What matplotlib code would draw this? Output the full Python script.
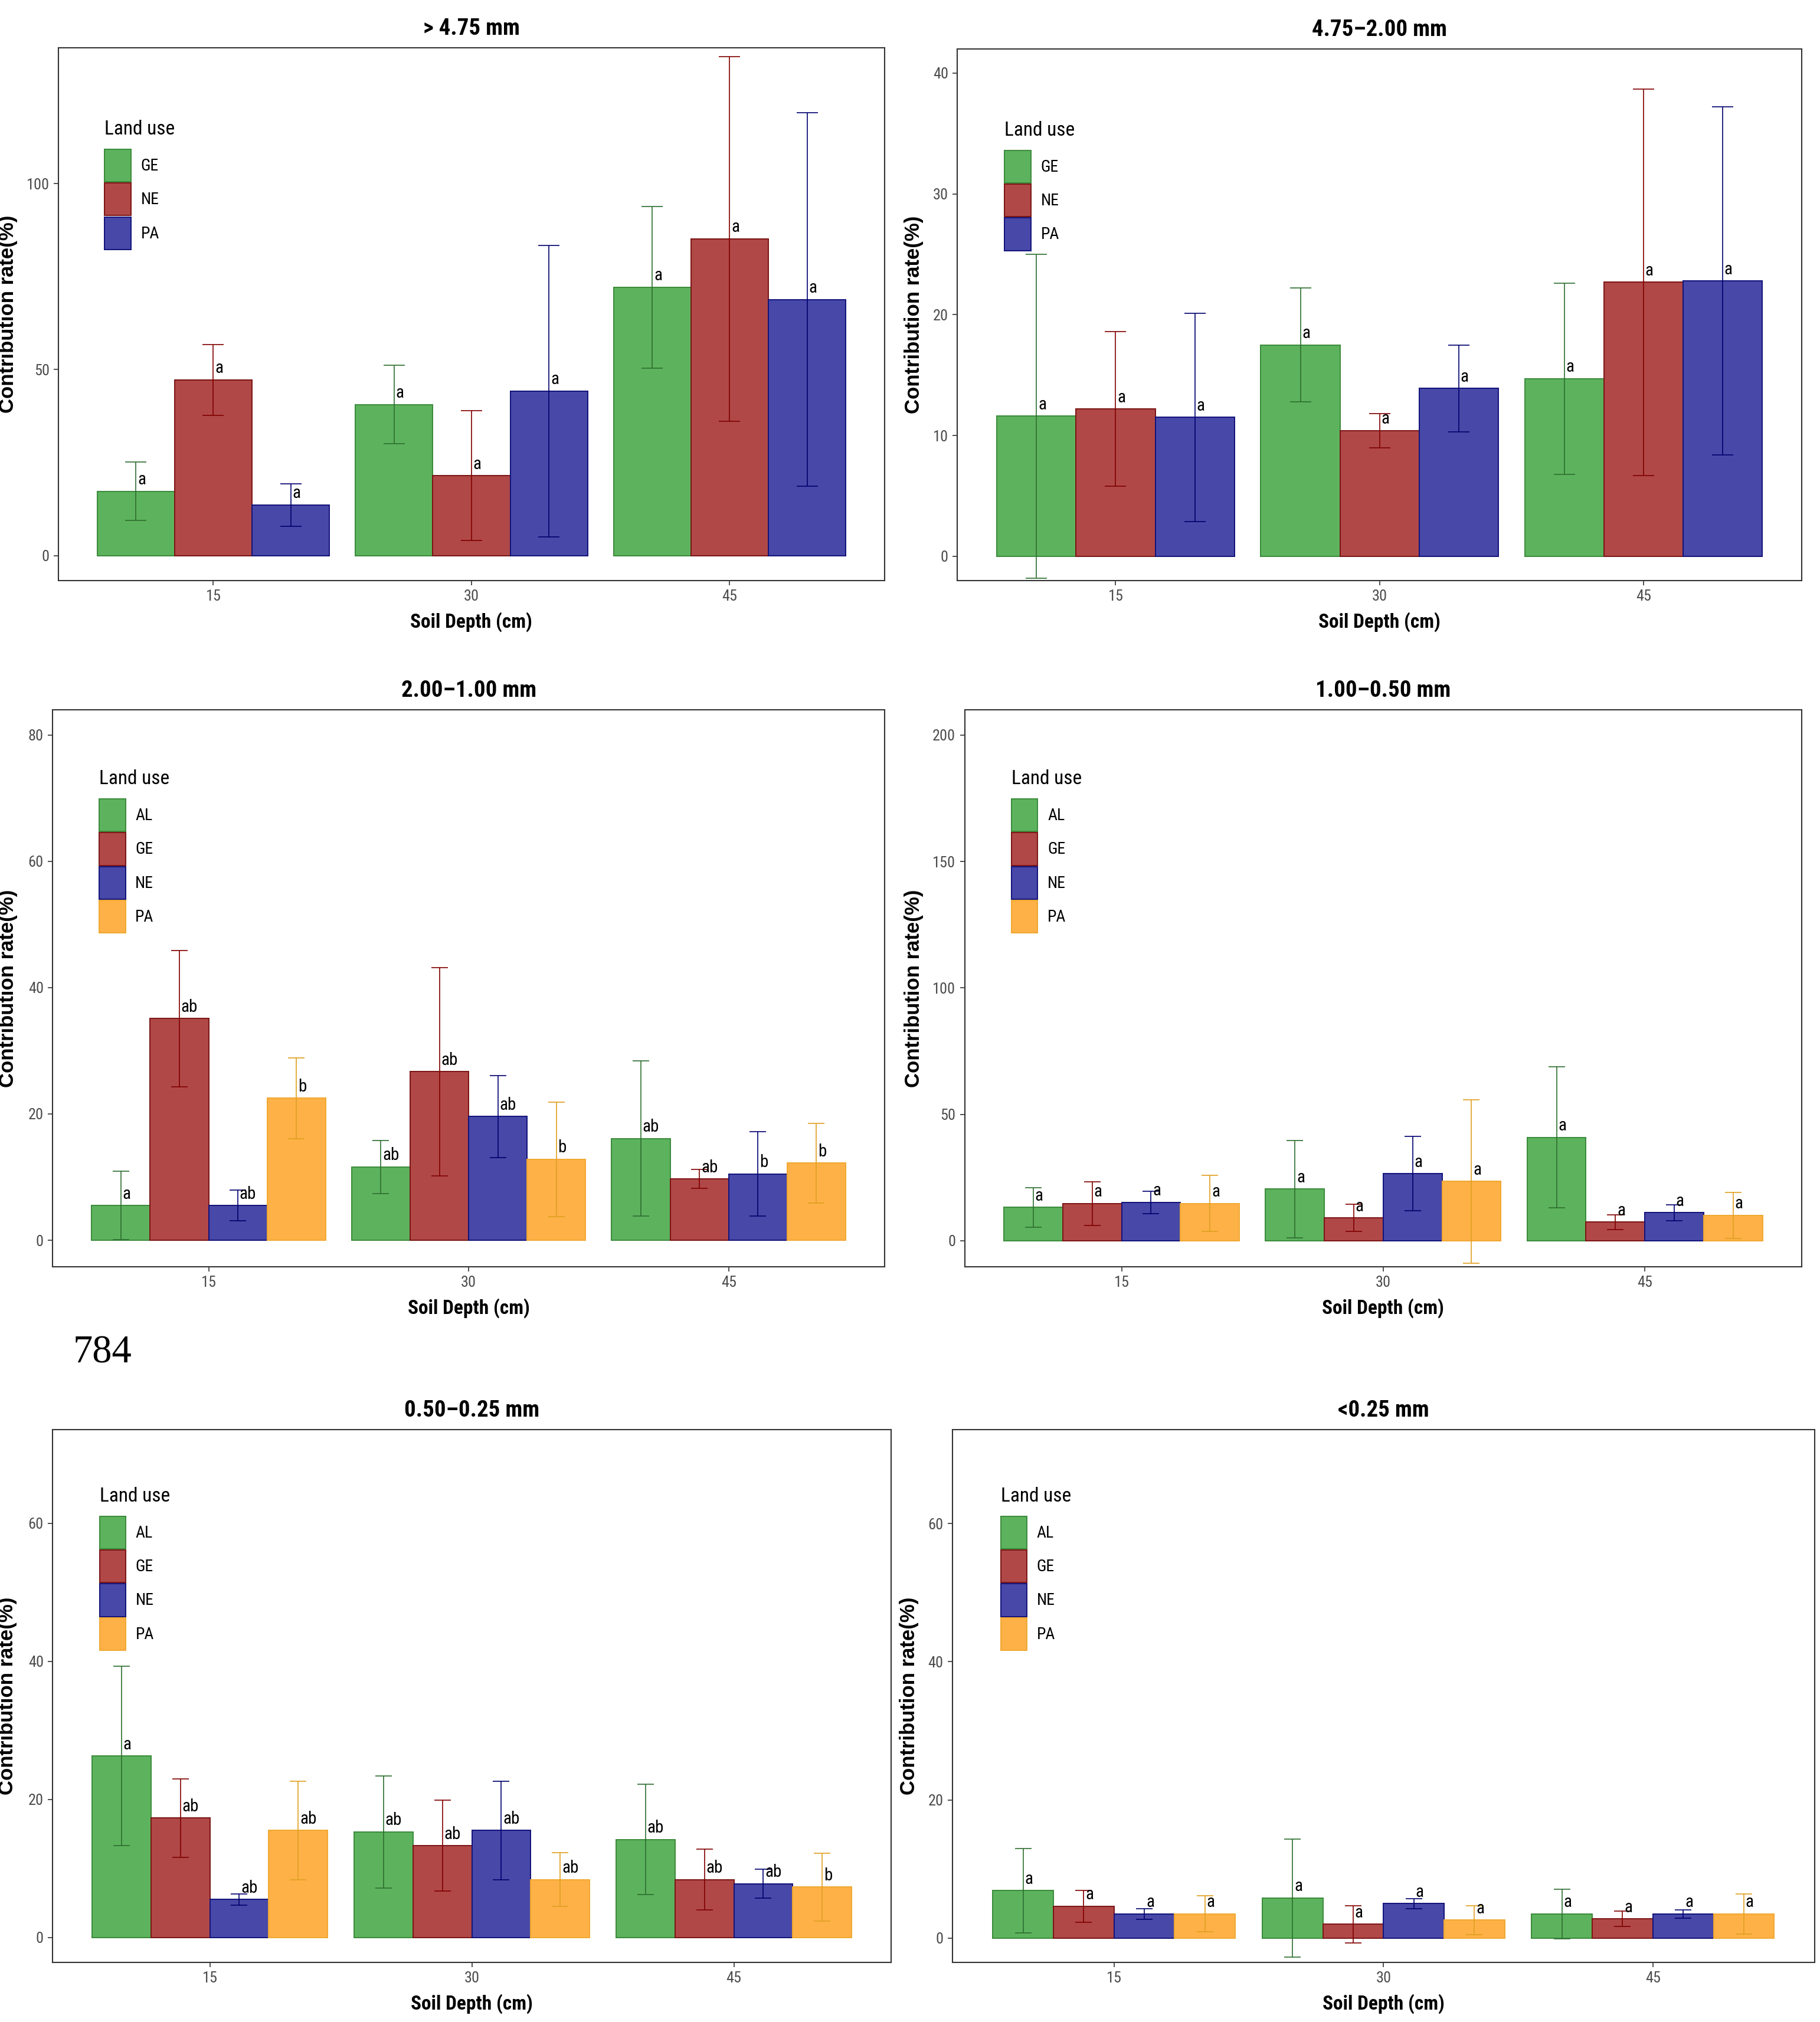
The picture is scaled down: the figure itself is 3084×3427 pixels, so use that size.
import matplotlib
matplotlib.use("Agg")
import matplotlib.pyplot as plt
from matplotlib import font_manager
from matplotlib.patches import Patch
import numpy as np

# ---- data -----------------------------------------------------------------
depths = ["15", "30", "45"]

# > 4.75 mm
gt475_groups = ["GE", "NE", "PA"]
gt475_mean = [[17.3, 40.6, 72.1], [47.2, 21.5, 85.1], [13.6, 44.2, 68.8]]
gt475_sd = [[7.9, 10.5, 21.7], [9.5, 17.5, 49.0], [5.7, 39.2, 50.2]]
gt475_letters = [["a", "a", "a"], ["a", "a", "a"], ["a", "a", "a"]]

# 4.75-2.00 mm
s475_200_groups = ["GE", "NE", "PA"]
s475_200_mean = [[11.6, 17.5, 14.7], [12.2, 10.4, 22.7], [11.5, 13.9, 22.8]]
s475_200_sd = [[13.4, 4.7, 7.9], [6.4, 1.4, 16.0], [8.6, 3.6, 14.4]]
s475_200_letters = [["a", "a", "a"], ["a", "a", "a"], ["a", "a", "a"]]

# 2.00-1.00 mm
s200_100_groups = ["AL", "GE", "NE", "PA"]
s200_100_mean = [[5.5, 11.6, 16.1], [35.1, 26.7, 9.7], [5.5, 19.6, 10.5], [22.5, 12.8, 12.2]]
s200_100_sd = [[5.4, 4.2, 12.3], [10.8, 16.5, 1.5], [2.4, 6.5, 6.7], [6.4, 9.1, 6.3]]
s200_100_letters = [["a", "ab", "ab"], ["ab", "ab", "ab"], ["ab", "ab", "b"], ["b", "b", "b"]]

# 1.00-0.50 mm
s100_050_groups = ["AL", "GE", "NE", "PA"]
s100_050_mean = [[13.2, 20.4, 40.9], [14.7, 9.0, 7.4], [15.2, 26.5, 11.1], [14.7, 23.5, 10.1]]
s100_050_sd = [[7.8, 19.3, 27.8], [8.7, 5.4, 2.9], [4.4, 14.7, 3.2], [11.1, 32.3, 9.1]]
s100_050_letters = [["a", "a", "a"], ["a", "a", "a"], ["a", "a", "a"], ["a", "a", "a"]]

# 0.50-0.25 mm
s050_025_groups = ["AL", "GE", "NE", "PA"]
s050_025_mean = [[26.3, 15.3, 14.2], [17.3, 13.3, 8.4], [5.5, 15.5, 7.8], [15.5, 8.4, 7.3]]
s050_025_sd = [[13.0, 8.1, 8.0], [5.7, 6.6, 4.4], [0.8, 7.1, 2.1], [7.1, 3.9, 4.9]]
s050_025_letters = [["a", "ab", "ab"], ["ab", "ab", "ab"], ["ab", "ab", "ab"], ["ab", "ab", "b"]]

# < 0.25 mm
lt025_groups = ["AL", "GE", "NE", "PA"]
lt025_mean = [[6.9, 5.8, 3.5], [4.6, 2.0, 2.8], [3.5, 5.0, 3.5], [3.5, 2.6, 3.5]]
lt025_sd = [[6.1, 8.5, 3.6], [2.3, 2.7, 1.1], [0.8, 0.7, 0.6], [2.6, 2.1, 2.9]]
lt025_letters = [["a", "a", "a"], ["a", "a", "a"], ["a", "a", "a"], ["a", "a", "a"]]

# ---- style ------------------------------------------------------------------
fills = ["#5DB35D", "#B04848", "#4848A8", "#FDB147"]
edges = ["#3A8A3A", "#7B1414", "#12127A", "#F0A830"]
err_colors = ["#2E6E30", "#800000", "#00006E", "#E0A020"]

names = {f.name for f in font_manager.fontManager.ttflist}
narrow = "Liberation Sans"
for cand in ["Liberation Sans Narrow", "Roboto Condensed", "DejaVu Sans Condensed",
             "Open Sans Condensed", "Noto Sans Condensed"]:
    if cand in names:
        narrow = cand
        break
plt.rcParams["font.family"] = [narrow, "DejaVu Sans"]


def draw_panel(ax, title, groups, means, sds, letters, ylim, yticks, leg_top, ylab_x):
    n = len(groups)
    width = 0.9 / n
    x = np.arange(1, len(depths) + 1)
    handles = []
    for i, grp in enumerate(groups):
        pos = x - 0.45 + width * (i + 0.5)
        ax.bar(pos, means[i], width=width, color=fills[i], edgecolor=edges[i],
               linewidth=1.4, zorder=2)
        ax.errorbar(pos, means[i], yerr=sds[i], fmt="none", ecolor=err_colors[i],
                    elinewidth=1.2, capsize=13 if n == 3 else 10, capthick=1.2, zorder=3)
        for xp, yv, lab in zip(pos, means[i], letters[i]):
            ax.annotate(lab, (xp, yv), xytext=(2, 4), textcoords="offset points",
                        ha="left", va="bottom", fontsize=21, color="black", zorder=4)
        handles.append(Patch(facecolor=fills[i], edgecolor=edges[i], linewidth=1.4, label=grp))

    ax.set_xlim(0.4, 3.6)
    ax.set_ylim(*ylim)
    ax.set_xticks(x)
    ax.set_xticklabels(depths)
    ax.set_yticks(yticks)
    ax.tick_params(labelsize=19, labelcolor="#4D4D4D", color="#333333",
                   length=6, width=1.2, pad=5)
    for sp in ax.spines.values():
        sp.set_color("#333333")
        sp.set_linewidth(1.5)

    ax.set_title(title, fontsize=28, fontweight="bold", pad=16)
    ax.set_xlabel("Soil Depth (cm)", fontsize=24, fontweight="bold", labelpad=10)
    ax.set_ylabel("Contribution rate(%)", fontsize=25, fontweight="bold",
                  family=["Liberation Sans", "DejaVu Sans"])
    ax.yaxis.set_label_coords(ylab_x, 0.5)

    leg = ax.legend(handles=handles, title="Land use", loc="upper left",
                    bbox_to_anchor=(0.056, leg_top), frameon=False, fontsize=20,
                    title_fontsize=24, handlelength=1.6, handleheight=2.68,
                    labelspacing=0.08, handletextpad=0.6, borderpad=0,
                    borderaxespad=0, alignment="left")
    # a little more room between the title and the keys, as in ggplot
    leg._legend_box.sep = 13
    return leg


fig = plt.figure(figsize=(30.84, 34.27), dpi=100)

ax1 = fig.add_axes([0.0321, 0.7129, 0.4539, 0.2635])
draw_panel(ax1, "> 4.75 mm", gt475_groups, gt475_mean, gt475_sd, gt475_letters,
           (-6.7, 136.5), [0, 50, 100], 0.865, -0.049)

ax2 = fig.add_axes([0.526, 0.7129, 0.464, 0.2629])
draw_panel(ax2, "4.75\u20132.00 mm", s475_200_groups, s475_200_mean, s475_200_sd,
           s475_200_letters, (-2.0, 42.0), [0, 10, 20, 30, 40], 0.865, -0.040)

ax3 = fig.add_axes([0.0289, 0.3735, 0.4572, 0.2755])
draw_panel(ax3, "2.00\u20131.00 mm", s200_100_groups, s200_100_mean, s200_100_sd,
           s200_100_letters, (-4.2, 84.0), [0, 20, 40, 60, 80], 0.893, -0.042)

ax4 = fig.add_axes([0.530, 0.3735, 0.460, 0.2755])
draw_panel(ax4, "1.00\u20130.50 mm", s100_050_groups, s100_050_mean, s100_050_sd,
           s100_050_letters, (-10.3, 210.0), [0, 50, 100, 150, 200], 0.893, -0.049)

ax5 = fig.add_axes([0.0289, 0.0295, 0.4607, 0.2635])
draw_panel(ax5, "0.50\u20130.25 mm", s050_025_groups, s050_025_mean, s050_025_sd,
           s050_025_letters, (-3.6, 73.6), [0, 20, 40, 60], 0.893, -0.042)

ax6 = fig.add_axes([0.5233, 0.0295, 0.4737, 0.2635])
draw_panel(ax6, "<0.25 mm", lt025_groups, lt025_mean, lt025_sd, lt025_letters,
           (-3.5, 73.6), [0, 20, 40, 60], 0.893, -0.039)

fig.text(0.040, 0.326, "784", fontsize=48, family=["Liberation Serif", "DejaVu Serif"],
         va="baseline", ha="left")

fig.savefig("out.png", dpi=100, facecolor="white")
